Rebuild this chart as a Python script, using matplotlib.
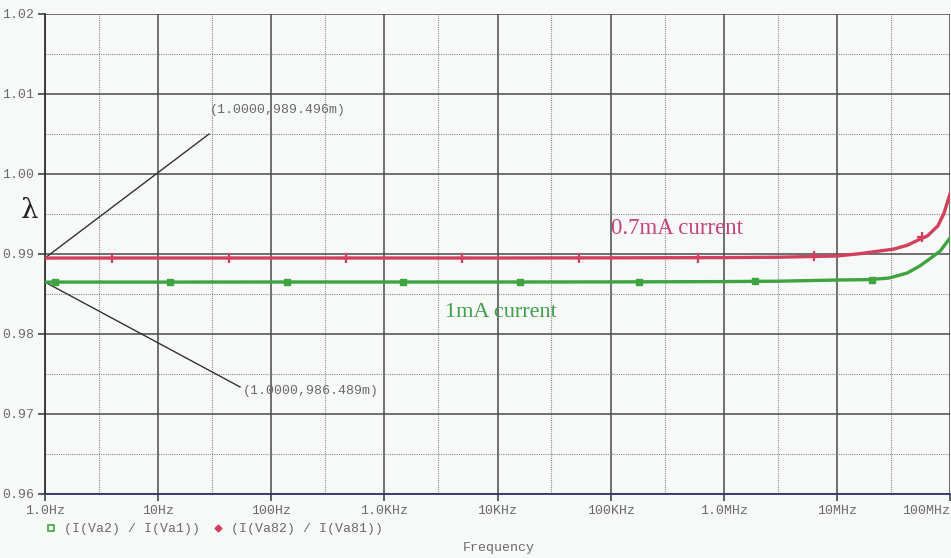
import numpy as np
import matplotlib
matplotlib.use("Agg")
import matplotlib.pyplot as plt
from matplotlib.lines import Line2D

# -----------------------
# Data
# -----------------------

freq_red = [1, 10, 100, 1e3, 1e4, 1e5, 1e6, 3e6, 1e7, 1.6e7, 2.4e7, 3.15e7,
            4.2e7, 5.4e7, 6.3e7, 7.8e7, 8.8e7, 1e8]
lam_red = [0.989496, 0.98950, 0.98950, 0.98950, 0.98950, 0.98952, 0.98955,
           0.98960, 0.98975, 0.99004, 0.99038, 0.99060, 0.99110, 0.99184,
           0.99225, 0.99350, 0.99500, 0.99750]

freq_green = [1, 10, 100, 1e3, 1e4, 1e5, 1e6, 3e6, 1.05e7, 1.94e7, 2.9e7,
              4.2e7, 5.4e7, 6.6e7, 8.2e7, 1e8]
lam_green = [0.986489, 0.98649, 0.98650, 0.98650, 0.98650, 0.98651, 0.98655,
             0.98660, 0.98675, 0.98680, 0.98700, 0.98763, 0.98850, 0.98938,
             0.99038, 0.99200]

mk_freq_red = [3.9, 42, 460, 4.9e3, 5.3e4, 5.9e5, 6.3e6, 5.7e7]
mk_lam_red = [0.98950, 0.98950, 0.98950, 0.98950, 0.98951, 0.98954, 0.98970, 0.99210]

mk_freq_green = [1.23, 12.7, 137, 1.47e3, 1.59e4, 1.77e5, 1.9e6, 2.04e7]
mk_lam_green = [0.98649, 0.98650, 0.98650, 0.98650, 0.98650, 0.98652, 0.98657, 0.98680]

x_ticks = [1, 10, 100, 1e3, 1e4, 1e5, 1e6, 1e7, 1e8]
x_labels = ["1.0Hz", "10Hz", "100Hz", "1.0KHz", "10KHz", "100KHz", "1.0MHz", "10MHz", "100MHz"]
y_ticks = [0.96, 0.97, 0.98, 0.99, 1.00, 1.01, 1.02]
y_labels = ["0.96", "0.97", "0.98", "0.99", "1.00", "1.01", "1.02"]

cursor_red = "(1.0000,989.496m)"
cursor_green = "(1.0000,986.489m)"

RED = "#d2405c"
GREEN = "#3fa33f"
GRAY = "#6a6a6a"
MONO = "Liberation Mono"

# -----------------------
# Figure
# -----------------------

fig = plt.figure(figsize=(9.51, 5.58), dpi=100, facecolor="#f7f8f8")
ax = fig.add_axes([45/951, 64/558, 905/951, 480/558])
ax.set_facecolor("#f7f8f8")

ax.set_xscale("log")
ax.set_xlim(1, 1e8)
ax.set_ylim(0.96, 1.02)

# grid: solid at decades / 0.01, dotted at 3x / 0.005
for x in x_ticks:
    ax.axvline(x, color="#4a4a4a", lw=1.1, zorder=1)
for x in x_ticks[:-1]:
    ax.axvline(3 * x, color="#8a8a8a", lw=0.8, ls=(0, (1, 1)), zorder=1)
for y in y_ticks:
    ax.axhline(y, color="#4a4a4a", lw=1.1, zorder=1)
for y in y_ticks[:-1]:
    ax.axhline(y + 0.005, color="#8a8a8a", lw=0.8, ls=(0, (1, 1)), zorder=1)

for s in ["top", "right"]:
    ax.spines[s].set_visible(False)
ax.spines["left"].set_color("#333333")
ax.spines["bottom"].set_color("#333366")
ax.spines["left"].set_linewidth(1.3)
ax.spines["bottom"].set_linewidth(1.3)

ax.set_xticks(x_ticks)
ax.set_xticklabels(x_labels)
ax.xaxis.set_minor_locator(matplotlib.ticker.NullLocator())
ax.set_yticks(y_ticks)
ax.set_yticklabels(y_labels)
ax.tick_params(axis="both", length=5, width=1.1, color="#333333",
               labelcolor=GRAY, labelsize=9.5, pad=3)
for lab in ax.get_xticklabels() + ax.get_yticklabels():
    lab.set_family(MONO)
# last label sits flush with the right edge
ax.get_xticklabels()[-1].set_horizontalalignment("right")

# curves
ax.plot(freq_red, lam_red, color=RED, lw=2.4, zorder=4)
ax.plot(freq_green, lam_green, color=GREEN, lw=2.4, zorder=4)
ax.plot(mk_freq_red, mk_lam_red, ls="none", marker="+", ms=7, mew=1.6,
        color=RED, zorder=5)
ax.plot(mk_freq_green, mk_lam_green, ls="none", marker="s", ms=5,
        color=GREEN, zorder=5)

# cursor annotations
ax.plot([1, 28.2], [lam_red[0], 1.005], color="#333333", lw=1.0, zorder=3)
ax.text(28.8, 1.0080, cursor_red, family=MONO, fontsize=9.5, color=GRAY,
        va="center", ha="left")
ax.plot([1, 53], [lam_green[0], 0.97338], color="#333333", lw=1.0, zorder=3)
ax.text(56, 0.97288, cursor_green, family=MONO, fontsize=9.5, color=GRAY,
        va="center", ha="left")

# series labels
ax.text(1.0e5, 0.99320, "0.7mA current", family="Liberation Serif",
        fontsize=16.5, color="#c4457c", va="center", ha="left")
ax.text(3.44e3, 0.98265, "1mA current", family="Liberation Serif",
        fontsize=16, color="#3f9e4a", va="center", ha="left")

# y label
fig.text(30/951, 1 - 210/558, "λ", family="DejaVu Serif", fontsize=20,
         color="#222222", ha="center", va="center")

# x label
fig.text(499/951, 1 - 548/558, "Frequency", family=MONO, fontsize=9.5,
         color=GRAY, ha="center", va="center")

# legend under the axis
handles = [
    Line2D([], [], ls="none", marker="s", ms=4, mfc="none", mec=GREEN, mew=1.2),
    Line2D([], [], ls="none", marker="D", ms=3.5, color=RED),
]
labels = ["(I(Va2) / I(Va1))", "(I(Va82) / I(Va81))"]
leg = fig.legend(handles, labels, loc="center left",
                 bbox_to_anchor=(34/951, 1 - 529/558), ncol=2, frameon=False,
                 handlelength=0.8, handletextpad=0.6, columnspacing=0.9,
                 prop={"family": MONO, "size": 9.5})
for t in leg.get_texts():
    t.set_color(GRAY)

fig.savefig("out.png", dpi=100, facecolor=fig.get_facecolor())
plt.close(fig)
